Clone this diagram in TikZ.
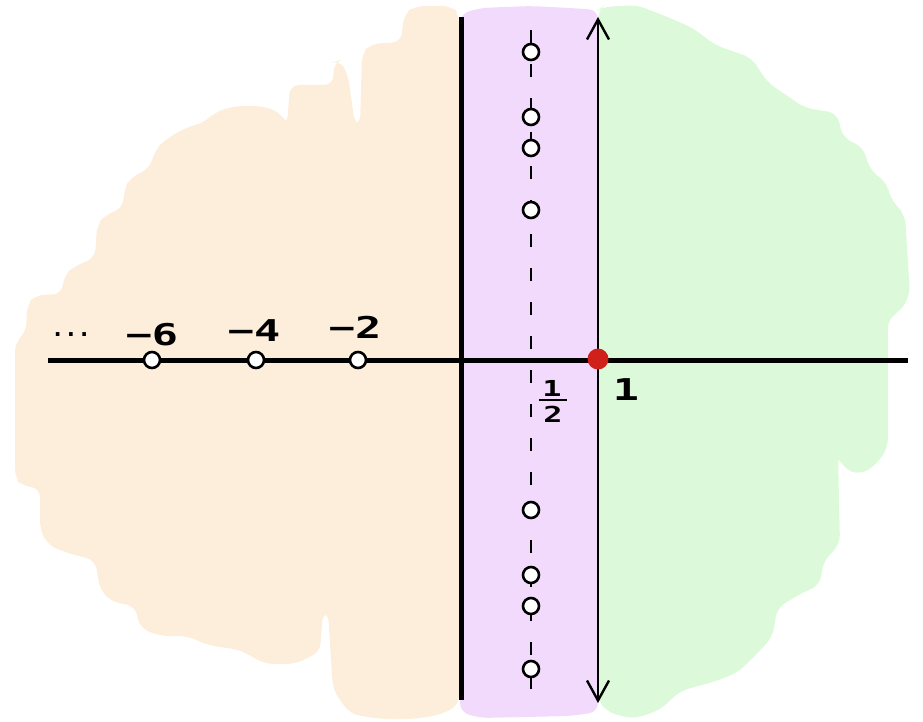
\documentclass[tikz,border=0pt]{standalone}
\usepackage{fontspec}
\usepackage{graphicx}
\setmonofont{DejaVu Sans Mono}
\usetikzlibrary{arrows.meta}
\definecolor{orangebg}{RGB}{253,238,220}
\definecolor{purplebg}{RGB}{242,218,252}
\definecolor{greenbg}{RGB}{220,250,218}
\definecolor{reddot}{RGB}{208,32,26}
\tikzset{
  zero/.style={circle, draw=black, line width=2.6pt, fill=white, minimum size=16pt, inner sep=0pt},
  lbl/.style={font=\ttfamily\bfseries\fontsize{30}{34}\selectfont, inner sep=0pt},
  smalllbl/.style={font=\ttfamily\bfseries\fontsize{22}{26}\selectfont, inner sep=0pt},
  dotslbl/.style={font=\ttfamily\bfseries\fontsize{22}{26}\selectfont, inner sep=0pt},
  blob/.style={rounded corners=9pt},
  thickline/.style={line width=5pt, black},
  critline/.style={line width=2.4pt, black, {Straight Barb[length=20pt,width=22pt,line width=2.4pt]}-{Straight Barb[length=20pt,width=22pt,line width=2.4pt]}},
  zetadash/.style={line width=2.8pt, black, dash pattern=on 13pt off 21pt}
}
\begin{document}
\begin{tikzpicture}[x=1pt,y=-1pt]
\useasboundingbox (0,0) rectangle (923,722);
% orange region
\fill[orangebg, blob] (459,14) -- (452,6) -- (415,6) -- (404,14) -- (401,42) -- (370,44) -- (362,54) -- (360,125) -- (355,125) -- (348,75) -- (340,60) -- (334,62) -- (333,85) -- (290,85) -- (287,125) -- (280,112) -- (262,106) -- (235,106) -- (215,112) -- (205,122) -- (185,128) -- (165,140) -- (155,150) -- (150,168) -- (130,178) -- (124,190) -- (123,208) -- (105,215) -- (97,225) -- (95,258) -- (75,266) -- (64,275) -- (62,294) -- (35,295) -- (27,305) -- (26,333) -- (15,342) -- (15,478) -- (22,486) -- (40,488) -- (40,530) -- (48,545) -- (67,553) -- (95,560) -- (100,590) -- (112,602) -- (135,606) -- (140,628) -- (160,636) -- (188,636) -- (207,645) -- (240,650) -- (265,664) -- (295,664) -- (320,652) -- (323,612) -- (328,612) -- (333,690) -- (350,714) -- (380,719) -- (413,719) -- (440,715) -- (459,705) -- cycle;
% green region
\fill[greenbg, blob] (598,10) -- (602,7) -- (637,5) -- (665,16) -- (693,28) -- (715,45) -- (752,58) -- (767,82) -- (805,108) -- (837,113) -- (843,138) -- (863,147) -- (870,170) -- (887,183) -- (890,198) -- (905,215) -- (910,295) -- (900,312) -- (888,318) -- (888,447) -- (877,464) -- (860,475) -- (843,468) -- (838,455) -- (840,544) -- (823,562) -- (820,585) -- (800,594) -- (777,608) -- (773,636) -- (757,654) -- (737,673) -- (713,682) -- (680,691) -- (660,710) -- (633,719) -- (607,712) -- (598,700) -- cycle;
% purple strip
\fill[purplebg, blob] (460,14) -- (480,8) -- (530,6) -- (570,8) -- (598,10) -- (598,712) -- (570,716) -- (480,718) -- (460,712) -- cycle;
% axes
\coordinate (axL) at (48,360);
\coordinate (axR) at (908,360);
\coordinate (imT) at (461,17);
\coordinate (imB) at (461,700);
\draw[thickline] (axL) -- (axR);
\draw[thickline] (imT) -- (imB);
% critical line with zeros
\coordinate (zT) at (531,30);
\coordinate (zB) at (531,690);
\draw[zetadash] (zT) -- (zB);
\coordinate (cT) at (598,17);
\coordinate (cB) at (598,703);
\draw[critline] (cT) -- (cB);
\node[zero] (z1) at (531,52) {};
\node[zero] (z2) at (531,117) {};
\node[zero] (z3) at (531,148) {};
\node[zero] (z4) at (531,210) {};
\node[zero] (z5) at (531,510) {};
\node[zero] (z6) at (531,575) {};
\node[zero] (z7) at (531,606) {};
\node[zero] (z8) at (531,669) {};
% trivial zeros
\node[zero] (t6) at (152,360) {};
\node[zero] (t4) at (256,360) {};
\node[zero] (t2) at (358,360) {};
% pole
\node[circle, fill=reddot, minimum size=21pt, inner sep=0pt] (pole) at (598,359) {};
% labels
\node[dotslbl] (dots) at (71,335) {...};
\node[lbl] (l6) at (152,335) {\scalebox{1.45}[1]{−6}};
\node[lbl] (l4) at (254,331) {\scalebox{1.45}[1]{−4}};
\node[lbl] (l2) at (355,327) {\scalebox{1.45}[1]{−2}};
\node[lbl] (l1) at (626,390) {\scalebox{1.45}[1]{1}};
\node[smalllbl] (num) at (552,388) {\scalebox{1.45}[1]{1}};
\node[smalllbl] (den) at (553,414) {\scalebox{1.45}[1]{2}};
\coordinate (barL) at (539,400);
\coordinate (barR) at (567,400);
\draw[line width=2pt] (barL) -- (barR);
\end{tikzpicture}
\end{document}
